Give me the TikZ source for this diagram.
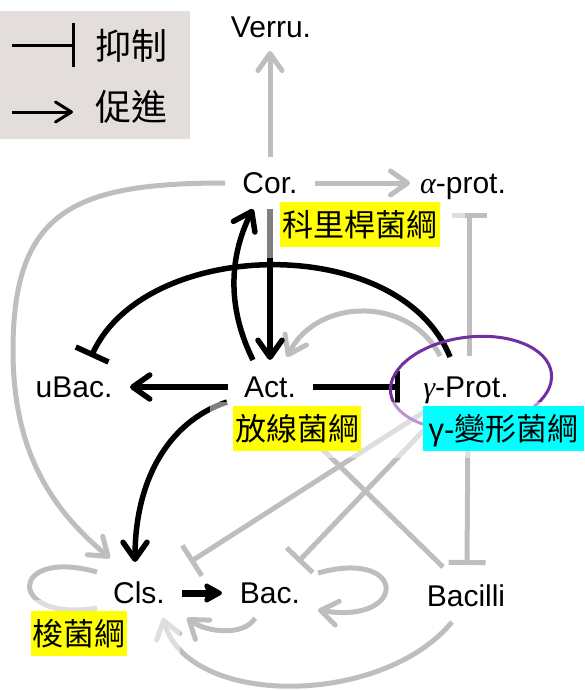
\documentclass[tikz,border=0pt]{standalone}
\usepackage{fontspec}
\setmainfont{Liberation Sans}
\newfontfamily\cjkfont{Noto Sans CJK TC}
\newfontfamily\greekit{Liberation Serif}
\usetikzlibrary{arrows.meta,calc}
\definecolor{edgegray}{HTML}{BEBEBE}
\definecolor{legendbg}{HTML}{E3DEDB}
\definecolor{ellpurple}{HTML}{7030A0}
\definecolor{labyellow}{RGB}{255,255,0}
\definecolor{labcyan}{RGB}{0,255,255}
\pgfdeclarelayer{edges}
\pgfdeclarelayer{halo}
\pgfsetlayers{edges,halo,main}
\begin{document}
\begin{tikzpicture}[x=1pt,y=-1pt,
  txt/.style={font=\fontsize{30}{36}\selectfont,inner sep=0pt,text height=21.5pt,text depth=0pt},
  lab/.style={font=\cjkfont\fontsize{31}{36}\selectfont,inner sep=0pt,minimum height=45pt,text height=26pt,text depth=2pt},
  leg/.style={font=\cjkfont\fontsize{36}{40}\selectfont,inner sep=0pt,text height=30pt,text depth=3pt},
  gline/.style={draw=edgegray,line width=5pt},
  bline/.style={draw=black,line width=5.5pt},
  prom/.style={-{Straight Barb[length=17pt,width=24pt,round]}},
  inhib/.style={-{Bar[width=#1]}},
  halofill/.style={fill=white,opacity=0.5}
]
\useasboundingbox (0,0) rectangle (584,691);

% ---------- nodes ----------
\node[txt] (verru)   at (271,27)  {Verru.};
\node[txt] (cor)     at (270,183) {Cor.};
\node[txt] (ap)      at (463,183) {{\greekit\itshape α}-prot.};
\node[txt] (ubac)    at (74,387)  {uBac.};
\node[txt] (act)     at (270,387) {Act.};
\node[txt] (gp)      at (466,387) {{\greekit\itshape γ}-Prot.};
\node[txt] (cls)     at (139,593) {Cls.};
\node[txt] (bac)     at (270,593) {Bac.};
\node[txt] (bacilli) at (466,596) {Bacilli};

% labels
\node[lab,fill=labyellow,minimum width=160pt] (lcor) at (360,224.5) {科里桿菌綱};
\node[lab,fill=labyellow,minimum width=128pt] (lact) at (297,428.5) {放線菌綱};
\node[lab,fill=labcyan,minimum width=161pt]   (lgp)  at (503.5,428.5) {{\rmfamily γ-}變形菌綱};
\node[lab,fill=labyellow,minimum width=96pt]  (lcls) at (79,633.5) {梭菌綱};

% legend
\node[leg] (tinh) at (131,46)  {抑制};
\node[leg] (tpro) at (131,107) {促進};
\coordinate (inhA) at (12,45);
\coordinate (inhB) at (75,45);
\coordinate (proA) at (12,112);
\coordinate (proB) at (73,112);
\coordinate (arcL) at (13,350);
\coordinate (ellc) at ($(gp)+(5,-4)$);

\begin{pgfonlayer}{edges}
\fill[legendbg] (0,11) rectangle (190,139);
\draw[black,line width=3pt,-{Bar[width=44pt]}] (inhA) -- (inhB);
\draw[black,line width=3pt,-{Straight Barb[length=16pt,width=20pt,round]}] (proA) -- (proB);

% gray edges
\draw[gline,prom] ($(cor)+(0,-26)$) -- ($(verru)+(-1,24)$);
\draw[gline,prom] ($(cor)+(45,0)$) -- ($(ap)+(-53,0)$);
\draw[gline,prom] ($(cor)+(-45,0)$) .. controls +(-150,0) and +(0,-140) .. (arcL)
      .. controls +(0,100) and +(-60,-50) .. ($(cls)+(-29,-35)$);
\draw[gline,inhib=35pt] ($(gp)+(3,-31)$) -- ($(ap)+(6,30)$);
\draw[gline,inhib=37pt] ($(gp)+(2,33)$) -- ($(bacilli)+(1,-31)$);
\draw[gline,prom] ($(gp)+(-26,-31)$) .. controls +(-30,-60) and +(30,-60) .. ($(act)+(17,-30)$);
\draw[gline,inhib=36pt] ($(gp)+(-42,25)$) -- ($(cls)+(51,-31)$);
\draw[gline,inhib=36pt] ($(gp)+(-42,43)$) -- ($(bac)+(28,-31)$);
\draw[gline] ($(bacilli)+(-23,-29)$) -- ($(act)+(43,53)$);
\draw[gline,prom] ($(bac)+(48,-20)$) .. controls +(90,-25) and +(90,15) .. ($(bac)+(48,17)$);
\draw[gline,prom] ($(bac)+(-15,25)$) .. controls +(-10,18) and +(20,15) .. ($(cls)+(48,25)$);
\draw[gline,prom] ($(bacilli)+(-14,26)$) .. controls +(-70,85) and +(25,90) .. ($(cls)+(24,25)$);
\draw[gline] ($(cls)+(-42,-21)$) .. controls +(-90,-25) and +(-90,15) .. ($(cls)+(-42,15)$);

% black edges
\draw[bline,prom] ($(cor)+(0,26)$) -- ($(act)+(0,-27)$);
\draw[bline,prom] ($(act)+(-17,-27)$) .. controls +(-25,-50) and +(-25,50) .. ($(cor)+(-17,26)$);
\draw[bline,inhib=36pt] ($(gp)+(-16,-30)$) .. controls +(-50,-125) and +(55,-120) .. ($(ubac)+(17,-30)$);
\draw[bline,prom] ($(act)+(-42,0)$) -- ($(ubac)+(56,0)$);
\draw[bline,inhib=32pt] ($(act)+(43,0)$) -- ($(gp)+(-66,0)$);
\draw[bline,prom] ($(act)+(-43,15)$) .. controls +(-60,20) and +(0,-80) .. ($(cls)+(-4,-31)$);
\draw[black,line width=7pt,-{Stealth[length=22pt,width=24pt,inset=5pt,round]}] ($(cls)+(43,0)$) -- ($(bac)+(-48,0)$);

% highlight ellipse
\draw[ellpurple,line width=3pt,rotate around={7:(ellc)}] (ellc) ellipse [x radius=81,y radius=46];
\end{pgfonlayer}

\begin{pgfonlayer}{halo}
\fill[halofill] (262,198) rectangle (465,258);
\fill[halofill] (210,402) rectangle (584,458);
\fill[halofill] (20,600) rectangle (180,662);
\end{pgfonlayer}
\end{tikzpicture}
\end{document}
